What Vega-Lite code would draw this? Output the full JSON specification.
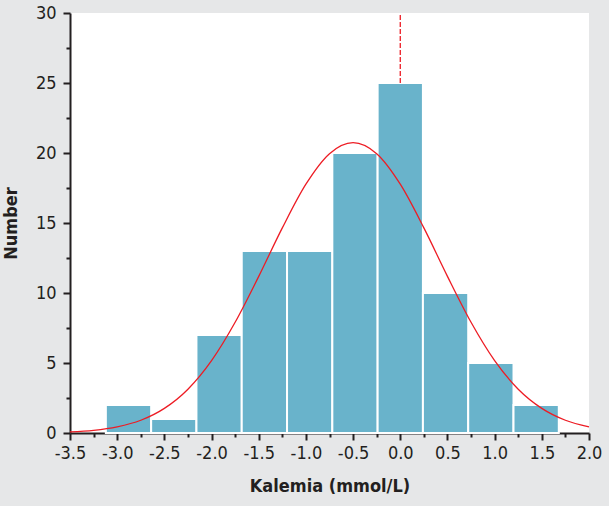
{
  "$schema": "https://vega.github.io/schema/vega-lite/v6.json",
  "width": 519,
  "height": 420,
  "autosize": "none",
  "padding": {"left": 70, "top": 13, "right": 20, "bottom": 73},
  "background": "#e6e7e8",
  "view": {"fill": "white", "stroke": null},
  "config": {
    "font": "Liberation Sans Narrow, DejaVu Sans Condensed, sans-serif",
    "axis": {
      "labelFont": "Liberation Sans Narrow, DejaVu Sans Condensed, sans-serif",
      "titleFont": "Liberation Sans Narrow, DejaVu Sans Condensed, sans-serif",
      "labelFontSize": 18,
      "titleFontSize": 18,
      "titleFontWeight": "bold",
      "labelColor": "#231f20",
      "titleColor": "#231f20",
      "domainColor": "#231f20",
      "tickColor": "#231f20",
      "domainWidth": 2,
      "tickWidth": 2,
      "grid": false,
      "zindex": 1
    }
  },
  "resolve": {"axis": {"x": "independent", "y": "independent"}},
  "datasets": {
    "bars": [
      {"x0": -3.12, "x1": -2.64, "count": 2},
      {"x0": -2.64, "x1": -2.16, "count": 1},
      {"x0": -2.16, "x1": -1.68, "count": 7},
      {"x0": -1.68, "x1": -1.20, "count": 13},
      {"x0": -1.20, "x1": -0.72, "count": 13},
      {"x0": -0.72, "x1": -0.24, "count": 20},
      {"x0": -0.24, "x1": 0.24, "count": 25},
      {"x0": 0.24, "x1": 0.72, "count": 10},
      {"x0": 0.72, "x1": 1.20, "count": 5},
      {"x0": 1.20, "x1": 1.68, "count": 2}
    ],
    "curve": [
      {"x": -3.5, "y": 0.08},
      {"x": -3.25, "y": 0.19},
      {"x": -3.0, "y": 0.44},
      {"x": -2.75, "y": 0.91},
      {"x": -2.5, "y": 1.76},
      {"x": -2.25, "y": 3.13},
      {"x": -2.0, "y": 5.17},
      {"x": -1.75, "y": 7.91},
      {"x": -1.5, "y": 11.19},
      {"x": -1.25, "y": 14.65},
      {"x": -1.0, "y": 17.77},
      {"x": -0.75, "y": 19.95},
      {"x": -0.5, "y": 20.74},
      {"x": -0.25, "y": 19.95},
      {"x": 0.0, "y": 17.77},
      {"x": 0.25, "y": 14.65},
      {"x": 0.5, "y": 11.19},
      {"x": 0.75, "y": 7.91},
      {"x": 1.0, "y": 5.17},
      {"x": 1.25, "y": 3.13},
      {"x": 1.5, "y": 1.76},
      {"x": 1.75, "y": 0.91},
      {"x": 2.0, "y": 0.44}
    ],
    "marker": [
      {"x": 0, "y": 25, "y2": 30}
    ]
  },
  "layer": [
    {
      "data": {"name": "bars"},
      "mark": {"type": "rect", "fill": "#69b3cb", "stroke": "white", "strokeWidth": 2},
      "encoding": {
        "x": {
          "field": "x0", "type": "quantitative",
          "scale": {"domain": [-3.5, 2.0], "nice": false, "zero": false},
          "axis": {
            "orient": "bottom",
            "title": "Kalemia (mmol/L)",
            "values": [-3.5, -3.0, -2.5, -2.0, -1.5, -1.0, -0.5, 0.0, 0.5, 1.0, 1.5, 2.0],
            "labelExpr": "replace(format(datum.value, '.1f'), '\u2212', '-')",
            "tickSize": 7,
            "labelPadding": 4,
            "titlePadding": 15,
            "labelFlush": false
          }
        },
        "x2": {"field": "x1"},
        "y": {
          "field": "count", "type": "quantitative",
          "scale": {"domain": [0, 30], "nice": false},
          "axis": {
            "orient": "left",
            "title": "Number",
            "values": [0, 5, 10, 15, 20, 25, 30],
            "tickSize": 7,
            "labelPadding": 7,
            "titlePadding": 15
          }
        },
        "y2": {"datum": 0}
      }
    },
    {
      "data": {"name": "bars"},
      "mark": {"type": "point", "opacity": 0},
      "encoding": {
        "x": {
          "field": "x0", "type": "quantitative",
          "axis": {
            "orient": "bottom",
            "title": null, "labels": false, "domain": false,
            "values": [-3.25, -2.75, -2.25, -1.75, -1.25, -0.75, -0.25, 0.25, 0.75, 1.25, 1.75],
            "tickSize": 4
          }
        },
        "y": {
          "field": "count", "type": "quantitative",
          "axis": {
            "orient": "left",
            "title": null, "labels": false, "domain": false,
            "values": [2.5, 7.5, 12.5, 17.5, 22.5, 27.5],
            "tickSize": 4
          }
        }
      }
    },
    {
      "data": {"name": "curve"},
      "mark": {"type": "line", "color": "#ed1c24", "strokeWidth": 1.3, "interpolate": "monotone"},
      "encoding": {
        "x": {"field": "x", "type": "quantitative", "axis": null},
        "y": {"field": "y", "type": "quantitative", "axis": null}
      }
    },
    {
      "data": {"name": "marker"},
      "mark": {"type": "rule", "color": "#ed1c24", "strokeWidth": 1.3, "strokeDash": [5, 2]},
      "encoding": {
        "x": {"field": "x", "type": "quantitative", "axis": null},
        "y": {"field": "y", "type": "quantitative", "axis": null},
        "y2": {"field": "y2"}
      }
    }
  ]
}
